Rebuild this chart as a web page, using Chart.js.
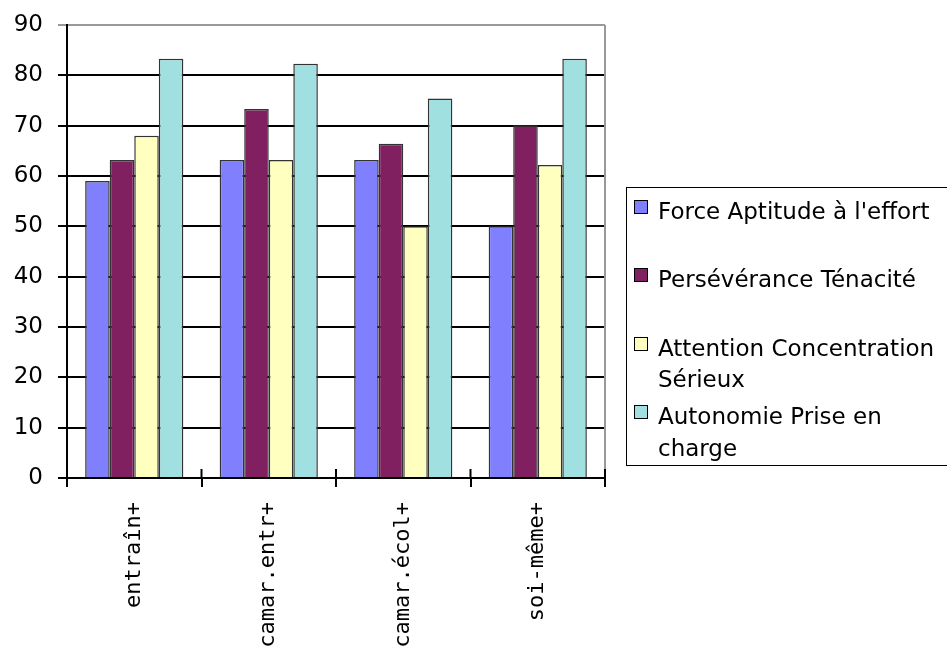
<!DOCTYPE html>
<html>
<head>
<meta charset="utf-8">
<script src="https://cdn.jsdelivr.net/npm/chart.js@4"></script>
<style>
html,body{margin:0;padding:0;background:#fff;}
#wrap{width:947px;height:648px;position:relative;overflow:hidden;}
</style>
</head>
<body>
<div id="wrap"><canvas id="c" width="947" height="648"></canvas></div>
<script>
const categories = ["entraîn+", "camar.entr+", "camar.écol+", "soi-même+"];
const seriesNames = [
  ["Force Aptitude à l'effort"],
  ["Persévérance Ténacité"],
  ["Attention Concentration", "Sérieux"],
  ["Autonomie Prise en", "charge"]
];
const forceValues = [59, 63.2, 63.2, 50];
const perseveranceValues = [63.2, 73.3, 66.4, 70.1];
const attentionValues = [68, 63.2, 50, 62.2];
const autonomieValues = [83.3, 82.3, 75.4, 83.3];
const seriesColors = ["#8080FF", "#802060", "#FFFFC0", "#A0E0E0"];
const yTicks = [0, 10, 20, 30, 40, 50, 60, 70, 80, 90];

const allValues = [forceValues, perseveranceValues, attentionValues, autonomieValues];

const FONT = "DejaVu Sans";

const legendPlugin = {
  id: 'customLegend',
  afterDraw(chart) {
    const ctx = chart.ctx;
    const a = chart.chartArea;
    ctx.save();
    ctx.strokeStyle = '#999';
    ctx.lineWidth = 2;
    ctx.beginPath();
    ctx.moveTo(a.right, a.top);
    ctx.lineTo(a.right, a.bottom);
    ctx.stroke();
    const xs = chart.scales.x;
    ctx.strokeStyle = '#000';
    ctx.lineWidth = 2;
    for (let i = 0; i <= categories.length; i++) {
      const px = xs.getPixelForValue(i - 0.5);
      ctx.beginPath();
      ctx.moveTo(px, a.bottom - 9);
      ctx.lineTo(px, a.bottom);
      ctx.stroke();
    }
    ctx.strokeStyle = '#000';
    ctx.lineWidth = 1;
    ctx.strokeRect(626.5, 187.5, 340, 278);
    ctx.font = "23px " + FONT;
    ctx.fillStyle = '#000';
    ctx.textBaseline = 'alphabetic';
    ctx.textAlign = 'left';
    const baselines = [[219], [287], [356, 387], [424, 456]];
    chart.data.datasets.forEach((ds, i) => {
      const b = baselines[i][0];
      ctx.fillStyle = ds.backgroundColor;
      ctx.fillRect(634, b - 19, 14, 14);
      ctx.strokeStyle = '#000';
      ctx.lineWidth = 1;
      ctx.strokeRect(634.5, b - 18.5, 13, 13);
      ctx.fillStyle = '#000';
      seriesNames[i].forEach((line, j) => {
        ctx.fillText(line, 658, baselines[i][j]);
      });
    });
    ctx.restore();
  }
};

new Chart(document.getElementById('c'), {
  type: 'bar',
  data: {
    labels: categories,
    datasets: allValues.map((vals, i) => ({
      label: seriesNames[i].join(' '),
      data: vals,
      backgroundColor: seriesColors[i],
      borderColor: '#333',
      borderWidth: 1.5,
      categoryPercentage: 0.73,
      barPercentage: 1.0
    }))
  },
  options: {
    responsive: false,
    animation: false,
    devicePixelRatio: 1,
    layout: { padding: { top: 25, right: 342, left: 0, bottom: 0 } },
    plugins: { legend: { display: false }, tooltip: { enabled: false } },
    scales: {
      x: {
        offset: true,
        grid: {
          offset: true,
          drawOnChartArea: false,
          drawTicks: true,
          tickLength: 9,
          color: '#000',
          lineWidth: 2
        },
        border: { display: true, color: '#000', width: 2 },
        ticks: {
          minRotation: 90,
          maxRotation: 90,
          autoSkip: false,
          padding: 15,
          color: '#000',
          font: { family: "DejaVu Sans Mono", size: 22 }
        },
        afterFit(scale) { scale.height = 170; scale.paddingLeft = 0; scale.paddingRight = 0; }
      },
      y: {
        min: 0,
        max: 90,
        afterBuildTicks(scale) { scale.ticks = yTicks.map(v => ({ value: v })); },
        grid: {
          color: (c) => c.tick && c.tick.value === 90 ? '#999' : '#000',
          lineWidth: 2,
          tickLength: 9,
          drawTicks: true
        },
        border: { display: true, color: '#000', width: 2 },
        ticks: {
          padding: 15,
          color: '#000',
          font: { family: FONT, size: 23 }
        },
        afterFit(scale) { scale.width = 67; scale.paddingTop = 0; scale.paddingBottom = 0; }
      }
    }
  },
  plugins: [legendPlugin]
});
</script>
</body>
</html>
